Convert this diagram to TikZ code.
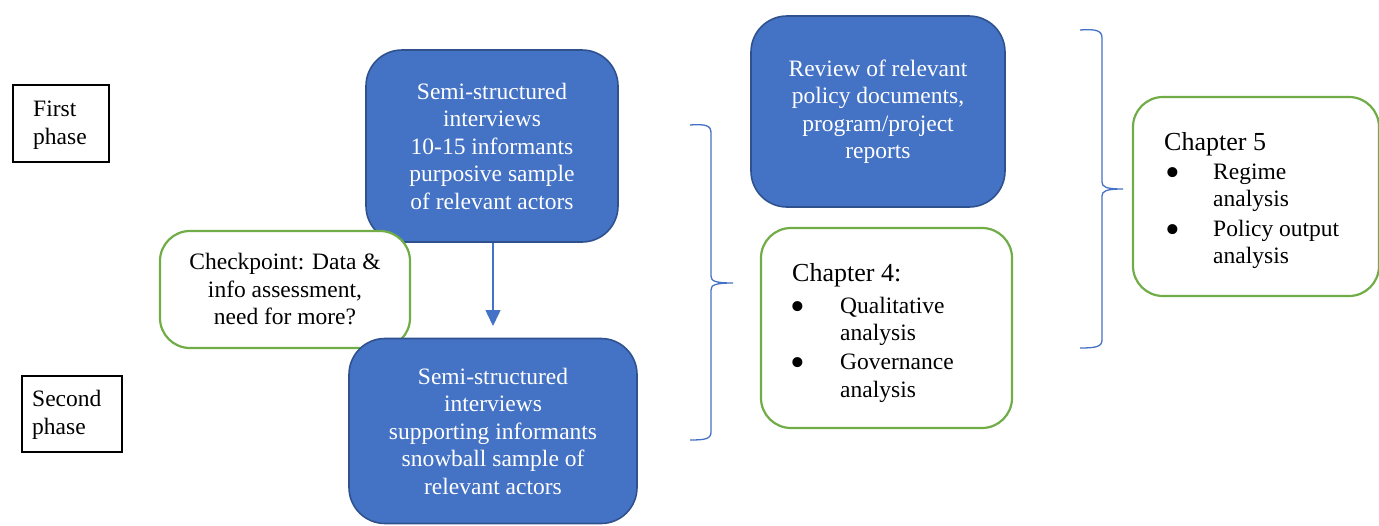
\documentclass[tikz,border=0pt]{standalone}
\usepackage{fontspec}
\setmainfont{Liberation Serif}
\usetikzlibrary{arrows.meta}
\definecolor{bluefill}{HTML}{4472C4}
\definecolor{blueedge}{HTML}{2F528F}
\definecolor{greenedge}{HTML}{70AD47}
\newcommand{\bodyfont}{\fontsize{23.5}{27.5}\selectfont}
\newcommand{\headfont}{\fontsize{26}{30}\selectfont}
\newcommand{\bulletfont}{\fontsize{42}{42}\selectfont}
\tikzset{
  bluebox/.style={draw=blueedge, line width=1.6pt, fill=bluefill, rounded corners=36pt,
    text=white, align=center, font=\bodyfont, inner sep=0pt},
  greenbox/.style={draw=greenedge, line width=2.2pt, fill=white, rounded corners=30pt,
    align=center, font=\bodyfont, inner sep=0pt},
  phasebox/.style={draw=black, line width=1.6pt, inner sep=0pt},
  phasetext/.style={align=left, font=\bodyfont, inner sep=0pt},
  listtext/.style={align=left, font=\bodyfont, inner sep=0pt, anchor=base west},
  listbullet/.style={font=\bulletfont, inner sep=0pt, anchor=base west},
  bracket/.style={draw=bluefill, line width=1.3pt},
  flow/.style={draw=bluefill, line width=1.5pt, -{Triangle[length=16pt,width=15pt]}}
}
\begin{document}
\begin{tikzpicture}[x=1pt,y=-1pt]
\useasboundingbox (0,0) rectangle (1379,525);

% phase labels
\node[phasebox, minimum width=96pt, minimum height=77pt] (p1) at (61,123.5) {};
\node[phasetext, anchor=west] (p1t) at (33,125) {First\\phase};
\node[phasebox, minimum width=100pt, minimum height=76pt] (p2) at (72,414) {};
\node[phasetext, anchor=west] (p2t) at (32,415) {Second\\phase};

% interview rounds
\node[bluebox, minimum width=252pt, minimum height=192pt] (int1) at (492,146)
  {Semi-structured\\interviews\\10-15 informants\\purposive sample\\of relevant actors};
\node[greenbox, minimum width=250pt, minimum height=117pt] (check) at (285,289.5)
  {Checkpoint: Data \&\\info assessment,\\need for more?};
\node[bluebox, minimum width=288pt, minimum height=185pt] (int2) at (493,431)
  {Semi-structured\\interviews\\supporting informants\\snowball sample of\\relevant actors};
\coordinate (tip) at (493,326);
\draw[flow] (int1.south -| tip) -- (tip);

% document review
\node[bluebox, minimum width=254pt, minimum height=191pt] (rev) at (878,111.5)
  {Review of relevant\\policy documents,\\program/project\\reports};

% chapter 4
\node[greenbox, minimum width=251pt, minimum height=200pt] (ch4) at (886.5,328) {};
\node[listtext, font=\headfont] (ch4h) at (792,281) {Chapter 4:};
\node[listbullet] (ch4b1) at (790,320) {\textbullet};
\node[listtext] (ch4a) at (840,313) {Qualitative};
\node[listtext] (ch4b) at (840,340) {analysis};
\node[listbullet] (ch4b2) at (790,376) {\textbullet};
\node[listtext] (ch4c) at (840,369) {Governance};
\node[listtext] (ch4d) at (840,397) {analysis};

% chapter 5
\node[greenbox, minimum width=246pt, minimum height=199pt] (ch5) at (1256,196.5) {};
\node[listtext, font=\headfont] (ch5h) at (1164,150) {Chapter 5};
\node[listbullet] (ch5b1) at (1165,186) {\textbullet};
\node[listtext] (ch5a) at (1213,179) {Regime};
\node[listtext] (ch5b) at (1213,206) {analysis};
\node[listbullet] (ch5b2) at (1165,243) {\textbullet};
\node[listtext] (ch5c) at (1213,236) {Policy output};
\node[listtext] (ch5d) at (1213,263) {analysis};

% braces
\draw[bracket] (690,125) .. controls (705,124) and (711,125) .. (711,133) -- (711,276)
  .. controls (711,281) and (715,283) .. (733,283)
  .. controls (715,283) and (711,285) .. (711,290) -- (711,432)
  .. controls (711,439) and (705,440) .. (690,440);
\draw[bracket] (1080,30) .. controls (1095,29) and (1102,30) .. (1102,38) -- (1102,182)
  .. controls (1102,187) and (1106,189) .. (1123,189)
  .. controls (1106,189) and (1102,191) .. (1102,196) -- (1102,340)
  .. controls (1102,347) and (1095,348) .. (1080,348);
\end{tikzpicture}
\end{document}
